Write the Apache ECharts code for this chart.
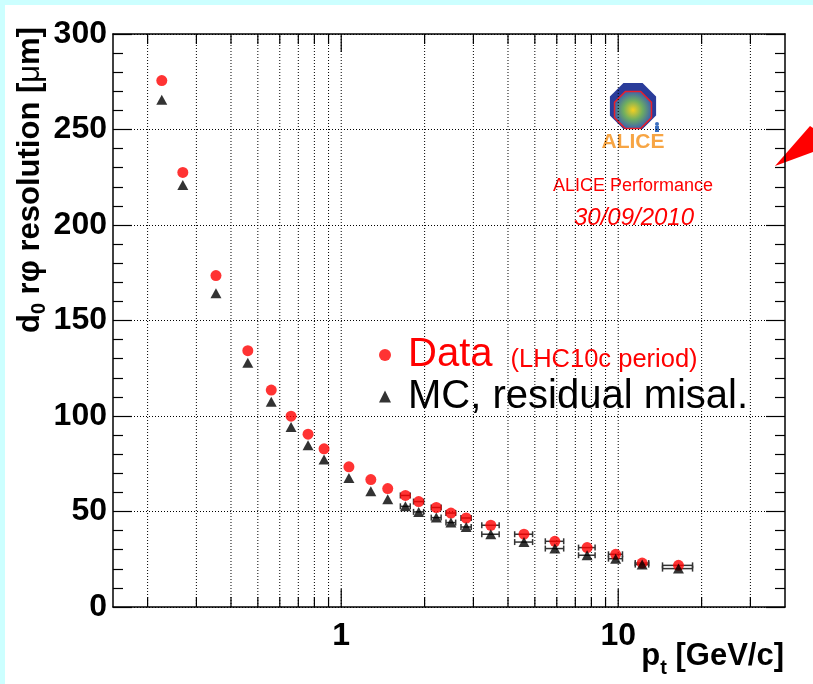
<!DOCTYPE html>
<html><head><meta charset="utf-8">
<script src="https://cdn.jsdelivr.net/npm/echarts@6/dist/echarts.min.js"></script>
<style>html,body{margin:0;padding:0;background:#fff}#c{width:813px;height:684px}</style>
</head><body><div id="c"></div>
<script>
// ---- data ----
const ptValues = [0.225,0.268,0.353,0.46,0.559,0.659,0.759,0.867,1.066,1.279,1.472,1.705,1.904,2.204,2.489,2.826,3.467,4.568,5.905,7.72,9.79,12.2,16.5];
const dataRes  = [275.6,227.5,173.5,134.2,113.6,99.9,90.5,82.8,73.4,66.7,62.0,58.4,55.2,52.1,49.2,46.6,42.8,38.1,34.4,31.1,27.6,23.0,21.8];
const mcRes    = [265.6,221.0,164.3,127.9,107.5,94.3,84.7,77.2,67.6,60.6,56.4,52.7,49.8,46.8,44.2,41.9,38.1,34.0,30.6,27.1,25.3,22.2,20.1];
const ptErr    = [0,0,0,0,0,0,0,0,0,0,0,0.07,0.08,0.09,0.1,0.12,0.25,0.34,0.45,0.53,0.57,0.68,2.05];
const xTickValues = [0.2,0.3,0.4,0.5,0.6,0.7,0.8,0.9,1,2,3,4,5,6,7,8,9,10,20,30];
const xLabelValues = [1,10];
const xRange = [0.15,40];
const yRange = [0,300];
const yStep = 50;

const FONT = 'Liberation Sans, Arial, Helvetica, sans-serif';
const chart = echarts.init(document.getElementById('c'), null, {renderer:'canvas'});

function measure(text, font){
  const c = document.createElement('canvas').getContext('2d');
  c.font = font; return c.measureText(text).width;
}
// y-axis title pieces (rotated)
const yt = [
  {t:'d', f:'bold 31px '+FONT, dy:0},
  {t:'0', f:'bold 20px '+FONT, dy:9},
  {t:' r\u03c6 resolution [', f:'bold 31px '+FONT, dy:0},
  {t:'\u03bc', f:'31px '+FONT, dy:0},
  {t:'m]', f:'bold 31px '+FONT, dy:0}
];
function buildPieces(pieces){
  const widths = pieces.map(p=>measure(p.t,p.f));
  const total = widths.reduce((a,b)=>a+b,0);
  let x = -total; const out=[];
  pieces.forEach((p,i)=>{ out.push({type:'text', x:x, y:p.dy, style:{text:p.t, font:p.f, fill:'#000', align:'left', verticalAlign:'middle'}}); x+=widths[i]; });
  return out;
}
const xt = [
  {t:'p', f:'bold 31px '+FONT, dy:0},
  {t:'t', f:'bold 20px '+FONT, dy:12},
  {t:' [GeV/c]', f:'bold 31px '+FONT, dy:0}
];

function octagon(cx,cy,r){
  const pts=[]; for(let i=0;i<8;i++){const a=Math.PI/8+i*Math.PI/4; pts.push([cx+r*Math.cos(a), cy+r*Math.sin(a)]);} return pts;
}

const option = {
  animation:false,
  backgroundColor:'#ccffff',
  grid:{left:113, right:28, top:34, bottom:77, containLabel:false},
  graphic:[
    {type:'rect', z:-10, shape:{x:5,y:5,width:808,height:679}, style:{fill:'#fff'}, silent:true},
    {type:'polygon', shape:{points:[[775,166],[810,126],[813,128],[813,152]]}, style:{fill:'#ff0000'}},
    {type:'group', x:30, y:27, rotation:Math.PI/2, children:buildPieces(yt)},
    {type:'group', x:784, y:656, children:buildPieces(xt)},
    // ALICE logo
    {type:'polygon', shape:{points:octagon(633,106,25)}, style:{fill:'#2a3c9a'}},
    {type:'polygon', shape:{points:octagon(633,110,20)}, style:{fill:{type:'radial',x:0.5,y:0.5,r:0.5,colorStops:[{offset:0,color:'#f5d020'},{offset:0.5,color:'#6fae60'},{offset:1,color:'#3b5fb0'}]}, stroke:'#e8202a', lineWidth:1.5}},
    {type:'circle', shape:{cx:657,cy:124,r:2}, style:{fill:'#3b6fc0'}},
    {type:'rect', shape:{x:655,y:126,width:4,height:6}, style:{fill:'#3b6fc0'}},
    {type:'text', x:633, y:142, style:{text:'ALICE', font:'bold 21px '+FONT, fill:'#f7a544', align:'center', verticalAlign:'middle'}},
    {type:'text', x:633, y:186, style:{text:'ALICE Performance', font:'18px '+FONT, fill:'#ff0000', align:'center', verticalAlign:'middle'}},
    {type:'text', x:634, y:218, style:{text:'30/09/2010', font:'italic 24px '+FONT, fill:'#ff0000', align:'center', verticalAlign:'middle'}}
  ],
  legend:{
    orient:'vertical', left:374, top:330, itemWidth:12, itemHeight:12, itemGap:0,
    selectedMode:false,
    data:[
      {name:'Data', icon:'circle', itemStyle:{color:'#ff0000'}},
      {name:'MC', icon:'triangle', itemStyle:{color:'#000'}}
    ],
    formatter:function(n){ return n==='Data' ? '{a|Data}{b|(LHC10c period)}' : '{c|MC, residual misal.}'; },
    textStyle:{rich:{
      a:{fontFamily:FONT, fontSize:40, color:'#ff0000', lineHeight:43, padding:[0,18,0,12]},
      b:{fontFamily:FONT, fontSize:25.5, color:'#ff0000', lineHeight:43, verticalAlign:'bottom', padding:[0,0,4,0]},
      c:{fontFamily:FONT, fontSize:40, color:'#000', lineHeight:43, padding:[0,0,0,12]}
    }}
  },
  xAxis:[
    {type:'log', logBase:10, min:xRange[0], max:xRange[1], position:'bottom',
     axisLine:{onZero:false, lineStyle:{color:'#000', width:1.5}},
     axisTick:{show:false}, minorTick:{show:false}, splitLine:{show:false},
     axisLabel:{margin:13, color:'#000', fontFamily:FONT, fontWeight:'bold', fontSize:32,
       formatter:function(v){ const r=Math.round(v); return (Math.abs(v-r)<1e-6 && xLabelValues.indexOf(r)>=0) ? String(r) : ''; }}},
    {type:'log', logBase:10, min:xRange[0], max:xRange[1], position:'top',
     axisLine:{onZero:false, lineStyle:{color:'#000', width:1.5}},
     axisTick:{show:false}, axisLabel:{show:false}, splitLine:{show:false}}
  ],
  yAxis:[
    {type:'value', min:yRange[0], max:yRange[1], interval:yStep, position:'left',
     axisLine:{show:true, onZero:false, lineStyle:{color:'#000', width:1.5}},
     axisTick:{show:true, inside:true, length:19, lineStyle:{color:'#000', width:1.2}},
     minorTick:{show:true, splitNumber:5, length:10, lineStyle:{color:'#000', width:1.2}},
     splitLine:{show:true, lineStyle:{color:'#000', width:1, type:[1,2]}},
     axisLabel:{margin:6, color:'#000', fontFamily:FONT, fontWeight:'bold', fontSize:32}},
    {type:'value', min:yRange[0], max:yRange[1], interval:yStep, position:'right',
     axisLine:{show:true, onZero:false, lineStyle:{color:'#000', width:1.5}},
     axisTick:{show:true, inside:true, length:19, lineStyle:{color:'#000', width:1.2}},
     minorTick:{show:true, splitNumber:5, length:10, lineStyle:{color:'#000', width:1.2}},
     splitLine:{show:false}, axisLabel:{show:false}}
  ],
  series:[
    {type:'custom', name:'xgrid', silent:true, z:1, clip:false,
     data:xTickValues.map(v=>[v, yRange[0]]),
     renderItem:function(params, api){
       const v = api.value(0);
       const b = api.coord([v, yRange[0]]), t = api.coord([v, yRange[1]]);
       const L = xLabelValues.indexOf(v)>=0 ? 18 : 10;
       return {type:'group', children:[
         {type:'line', shape:{x1:b[0],y1:b[1],x2:t[0],y2:t[1]}, style:{stroke:'#000', lineWidth:1, lineDash:[1,2]}},
         {type:'line', shape:{x1:b[0],y1:b[1],x2:b[0],y2:b[1]-L}, style:{stroke:'#000', lineWidth:1.2}},
         {type:'line', shape:{x1:t[0],y1:t[1],x2:t[0],y2:t[1]+L}, style:{stroke:'#000', lineWidth:1.2}}
       ]};
     }},
    {type:'custom', name:'xerr', silent:true, z:2,
     data:(function(){const d=[]; ptValues.forEach((x,i)=>{ if(ptErr[i]>0){ d.push([x, dataRes[i], ptErr[i]]); d.push([x, mcRes[i], ptErr[i]]);} }); return d;})(),
     renderItem:function(params, api){
       const x=api.value(0), y=api.value(1), e=api.value(2);
       const lo=api.coord([x-e,y]), hi=api.coord([x+e,y]);
       return {type:'group', children:[
         {type:'line', shape:{x1:lo[0],y1:lo[1],x2:hi[0],y2:hi[1]}, style:{stroke:'#333', lineWidth:1.5}},
         {type:'line', shape:{x1:lo[0],y1:lo[1]-3,x2:lo[0],y2:lo[1]+3}, style:{stroke:'#333', lineWidth:1.5}},
         {type:'line', shape:{x1:hi[0],y1:hi[1]-3,x2:hi[0],y2:hi[1]+3}, style:{stroke:'#333', lineWidth:1.5}}
       ]};
     }},
    {type:'scatter', name:'Data', z:4, symbol:'circle', symbolSize:11, itemStyle:{color:'#ff0000'},
     data:ptValues.map((x,i)=>[x, dataRes[i]])},
    {type:'scatter', name:'MC', z:5, symbol:'triangle', symbolSize:[11,10], itemStyle:{color:'#000'},
     data:ptValues.map((x,i)=>[x, mcRes[i]])}
  ]
};
chart.setOption(option);
</script></body></html>
